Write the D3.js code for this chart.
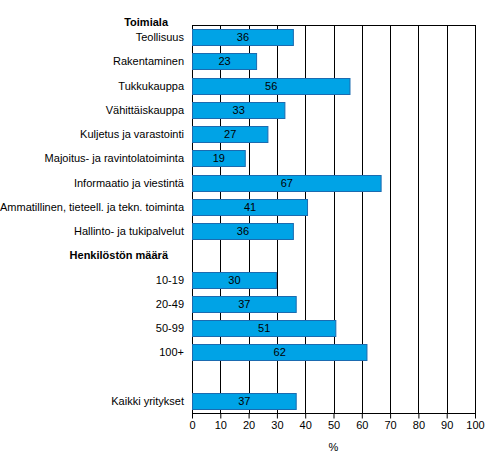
<!DOCTYPE html>
<html>
<head>
<meta charset="utf-8">
<script src="https://cdn.jsdelivr.net/npm/d3@7"></script>
<style>
  body { margin: 0; background: #fff; }
  svg text { font-family: "Liberation Sans", Arial, sans-serif; font-size: 11px; fill: #000; }
</style>
</head>
<body>
<div id="chart"></div>
<script>
// rows from top to bottom; "#..." = header / empty row
const categories = [
    "Teollisuus", "Rakentaminen", "Tukkukauppa", "Vähittäiskauppa",
    "Kuljetus ja varastointi", "Majoitus- ja ravintolatoiminta",
    "Informaatio ja viestintä", "Ammatillinen, tieteell. ja tekn. toiminta",
    "Hallinto- ja tukipalvelut",
    "#hdr2",
    "10-19", "20-49", "50-99", "100+",
    "#blank",
    "Kaikki yritykset"
];
const values = [36, 23, 56, 33, 27, 19, 67, 41, 36, null, 30, 37, 51, 62, null, 37];
const headers = ["Toimiala", "Henkilöstön määrä"];
const xTicks = [0, 10, 20, 30, 40, 50, 60, 70, 80, 90, 100];

const width = 493, height = 473;
const plot = {left: 192, right: 475, top: 25, bottom: 413};

const svg = d3.select("#chart").append("svg")
    .attr("width", width)
    .attr("height", height);

const x = d3.scaleLinear().domain([0, 100]).range([plot.left, plot.right]);
const y = d3.scaleBand().domain(categories).range([plot.top, plot.bottom]).paddingInner(0.35).paddingOuter(0.175);
const band = d3.scaleBand().domain(categories).range([plot.top, plot.bottom]);

// grid lines
svg.append("g")
    .selectAll("line")
    .data(xTicks)
    .enter()
    .append("line")
    .attr("x1", d => Math.round(x(d)) + 0.5)
    .attr("x2", d => Math.round(x(d)) + 0.5)
    .attr("y1", plot.top)
    .attr("y2", plot.bottom)
    .attr("stroke", "#000")
    .attr("stroke-width", 1);

svg.append("line")
    .attr("x1", plot.left).attr("x2", plot.right + 1)
    .attr("y1", plot.top + 0.5).attr("y2", plot.top + 0.5)
    .attr("stroke", "#000");

// bars
const data = categories.map((c, i) => ({cat: c, v: values[i]})).filter(d => d.v !== null);

svg.append("g")
    .selectAll("rect")
    .data(data)
    .enter()
    .append("rect")
    .attr("x", x(0) + 0.5)
    .attr("y", d => Math.round(y(d.cat)) + 0.5)
    .attr("width", d => x(d.v) - x(0) - 1)
    .attr("height", Math.round(y.bandwidth()))
    .attr("fill", "#00a3e6")
    .attr("stroke", "#1b6bb0")
    .attr("stroke-width", 1);

svg.append("g")
    .selectAll("text")
    .data(data)
    .enter()
    .append("text")
    .attr("x", d => (x(0) + x(d.v)) / 2)
    .attr("y", d => band(d.cat) + band.bandwidth() / 2 + 4)
    .attr("text-anchor", "middle")
    .text(d => d.v);

// category labels
svg.append("g")
    .selectAll("text")
    .data(categories.filter(c => c[0] !== "#"))
    .enter()
    .append("text")
    .attr("x", 184)
    .attr("y", d => band(d) + band.bandwidth() / 2 + 4)
    .attr("text-anchor", "end")
    .text(d => d);

// group headers
svg.append("text")
    .attr("x", 168).attr("y", plot.top + 1)
    .attr("text-anchor", "end")
    .style("font-weight", "bold")
    .text(headers[0]);
svg.append("text")
    .attr("x", 168).attr("y", band("#hdr2") + band.bandwidth() / 2 + 4)
    .attr("text-anchor", "end")
    .style("font-weight", "bold")
    .text(headers[1]);

// x axis
const axis = svg.append("g")
    .attr("transform", "translate(0," + (plot.bottom + 0.5) + ")")
    .call(d3.axisBottom(x).tickValues(xTicks).tickSize(5).tickPadding(3));
axis.select(".domain").attr("stroke", "#000").attr("d", "M" + plot.left + ",0H" + (plot.right + 1));
axis.selectAll(".tick line").attr("stroke", "#000");
axis.selectAll("text").style("font-size", "11px").style("font-family", "Liberation Sans, Arial, sans-serif");

svg.append("text")
    .attr("x", (plot.left + plot.right) / 2)
    .attr("y", 451)
    .attr("text-anchor", "middle")
    .text("%");
</script>
</body>
</html>
